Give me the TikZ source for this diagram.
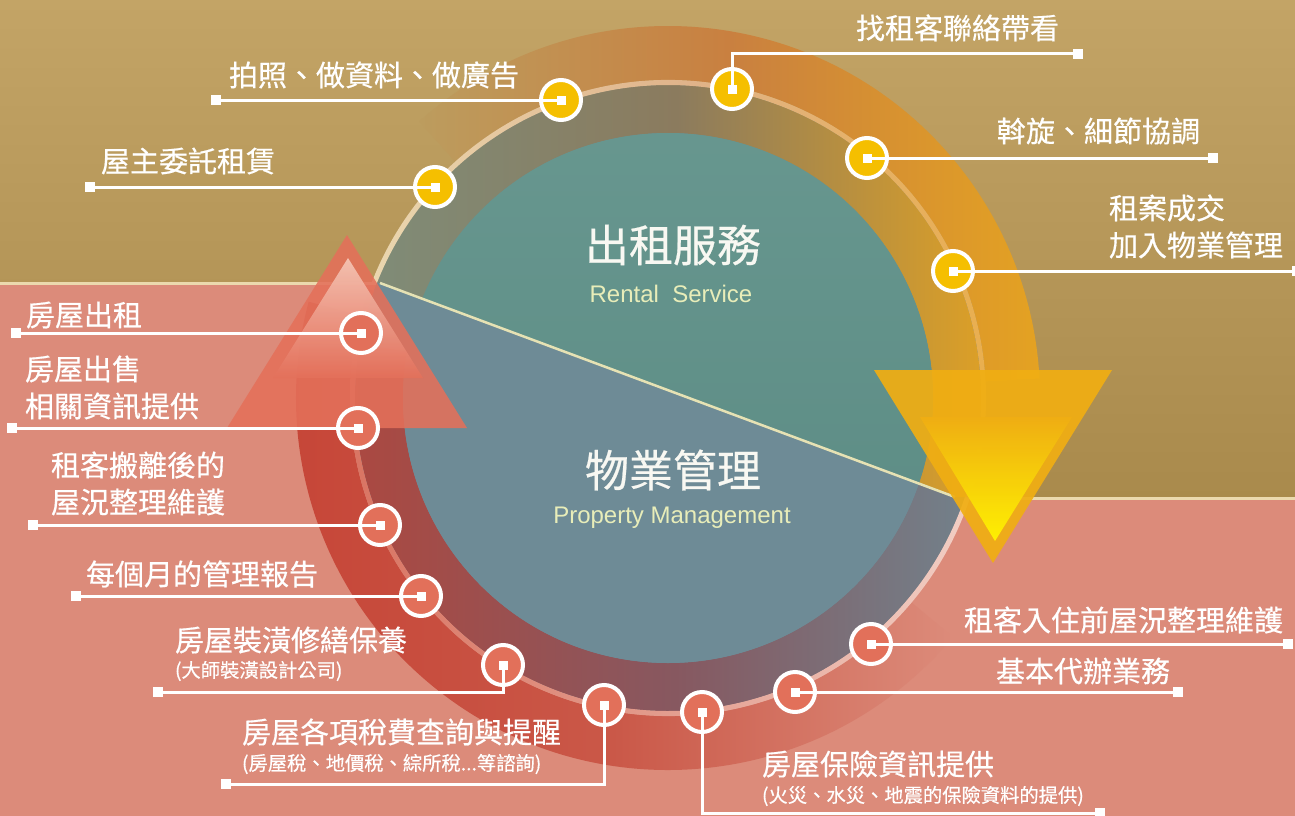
\documentclass[tikz,border=0pt]{standalone}
\usepackage{fontspec}
\setmainfont{Liberation Sans}
\newfontfamily\cjk[FakeBold=0.5]{Noto Sans CJK TC}
\definecolor{tanT}{HTML}{C3A466}
\definecolor{tanB}{HTML}{A98A4C}
\definecolor{pinkbg}{HTML}{DC8B7A}
\definecolor{cream}{HTML}{EBD9AE}
\definecolor{tealc}{HTML}{5F9189}
\definecolor{slatec}{HTML}{6E8B96}
\definecolor{doty}{HTML}{F5BF00}
\definecolor{dotc}{HTML}{E2705A}
\definecolor{titlec}{HTML}{F8F8F2}
\definecolor{engc}{HTML}{E8EDB9}
\definecolor{diagc}{HTML}{E6E2B4}
% band colours
\definecolor{orL}{HTML}{BC9C5E}
\definecolor{orM}{HTML}{C98040}
\definecolor{orR}{HTML}{E4A222}
\definecolor{tiL}{HTML}{7F8C78}
\definecolor{tiM}{HTML}{8B7B5E}
\definecolor{tiR}{HTML}{DDA026}
\definecolor{tlL}{HTML}{EAD7B0}
\definecolor{tlM}{HTML}{E0B38A}
\definecolor{tlR}{HTML}{EAAE48}
\definecolor{rdL}{HTML}{C64537}
\definecolor{rdM}{HTML}{CA5848}
\definecolor{biL}{HTML}{AC4840}
\definecolor{biM}{HTML}{875860}
\definecolor{biR}{HTML}{6F8690}
\definecolor{blL}{HTML}{D8705E}
\definecolor{blM}{HTML}{E29A8B}
\definecolor{blR}{HTML}{F2D0C6}
\definecolor{upO}{HTML}{E4705A}
\definecolor{upT}{HTML}{F7CDBE}
\definecolor{dnO}{HTML}{F0AE13}
\definecolor{dnT}{HTML}{FFF400}
\newcommand{\ringshade}[5]{\shade[#5] ([shift={(668,-398)}]#3:#2) arc[start angle=#3,end angle=#4,radius=#2] -- ([shift={(668,-398)}]#4:#1) arc[start angle=#4,end angle=#3,radius=#1] -- cycle;}
\begin{document}
\begin{tikzpicture}[x=1pt,y=1pt,
  conn/.style={draw=white,line width=3pt},
  endsq/.style={rectangle,fill=white,minimum size=10pt,inner sep=0pt},
  censq/.style={rectangle,fill=white,minimum size=9pt,inner sep=0pt},
  dotyel/.style={circle,draw=white,line width=4pt,fill=doty,minimum size=40pt,inner sep=0pt},
  dotcor/.style={circle,draw=white,line width=4pt,fill=dotc,minimum size=40pt,inner sep=0pt},
  lbl/.style={anchor=west,inner sep=0pt,outer sep=0pt,text=white,font=\cjk\fontsize{29}{35}\selectfont},
  sublbl/.style={anchor=west,inner sep=0pt,outer sep=0pt,text=white,font=\cjk\fontsize{19.3}{23}\selectfont},
  ttl/.style={inner sep=0pt,text=titlec,font=\cjk\fontsize{44}{50}\selectfont},
  engl/.style={inner sep=0pt,text=engc,font=\fontsize{24}{28}\selectfont},
  creamline/.style={draw=cream,line width=3pt},
]
\useasboundingbox (0,0) rectangle (1295,-816);
\clip (0,0) rectangle (1295,-816);
% backgrounds
\fill[tanB] (0,0) rectangle (1295,-816);
\shade[top color=tanT, bottom color=tanB] (0,0) rectangle (1295,-500);
\fill[pinkbg] (0,-283) -- (380,-283) -- (955,-497) -- (1295,-499) -- (1295,-816) -- (0,-816) -- cycle;
\draw[creamline] (0,-283) -- (380,-283);
\draw[creamline] (955,-498) -- (1295,-498);
% disc base (lower half colour)
\fill[slatec] (668,-398) circle[radius=313];
% lower bands
\ringshade{318}{372}{-40}{-195}{left color=rdL, right color=pinkbg, middle color=rdM}
\begin{scope}
  \clip (0,-283) -- (380,-283) -- (955,-497) -- (1295,-499) -- (1295,-816) -- (0,-816) -- cycle;
  \ringshade{265}{313}{10}{-190}{left color=biL, right color=biR, middle color=biM}
  \fill[slatec] (668,-398) circle[radius=265];
  \ringshade{313}{318}{-12}{-200}{left color=blL, right color=blR, middle color=blM}
\end{scope}
% upper bands
\ringshade{318}{372}{132}{3}{left color=orL, right color=orR, middle color=orM}
\begin{scope}
  \clip (0,0) -- (1295,0) -- (1295,-499) -- (955,-497) -- (380,-283) -- (0,-283) -- cycle;
  \ringshade{265}{313}{165}{-20}{left color=tiL, right color=tiR, middle color=tiM}
  \shade[top color=tealc!95!white, bottom color=tealc!95!black] (668,-398) circle[radius=265];
  \ringshade{313}{318}{165}{-20}{left color=tlL, right color=tlR, middle color=tlM}
\end{scope}
% dividing line
\draw[draw=diagc,line width=2.5pt] (380,-283) -- (955,-497);
% arrow heads
\fill[upO,opacity=0.88] (227,-428) -- (467,-428) -- (347,-235) -- cycle;
\shade[top color=upT, bottom color=upO, opacity=0.85] (273,-378) -- (423,-378) -- (348,-258) -- cycle;
\fill[dnO,opacity=0.93] (874,-370) -- (1112,-370) -- (993,-563) -- cycle;
\shade[top color=dnO, bottom color=dnT, opacity=0.95] (920,-417) -- (1072,-417) -- (995,-541) -- cycle;
% titles
\node[ttl] (t1) at (673,-245) {出租服務};
\node[engl] (t1e) at (671,-294) {Rental\ \ Service};
\node[ttl] (t2) at (673,-470) {物業管理};
\node[engl] (t2e) at (672,-518) {Property Management};
% dots
\node[dotyel] (y1) at (435,-187) {};
\node[dotyel] (y2) at (561,-100) {};
\node[dotyel] (y3) at (732,-89) {};
\node[dotyel] (y4) at (867,-158) {};
\node[dotyel] (y5) at (953,-271) {};
\node[dotcor] (c1) at (361,-333) {};
\node[dotcor] (c2) at (358,-428) {};
\node[dotcor] (c3) at (380,-525) {};
\node[dotcor] (c4) at (421,-596) {};
\node[dotcor] (c5) at (503,-665) {};
\node[dotcor] (c6) at (604,-705) {};
\node[dotcor] (c7) at (702,-712) {};
\node[dotcor] (c8) at (795,-692) {};
\node[dotcor] (c9) at (871,-644) {};
% end squares
\node[endsq] (ey1) at (90,-187) {};
\node[endsq] (ey2) at (216,-100) {};
\node[endsq] (ey3) at (1078,-54) {};
\node[endsq] (ey4) at (1213,-158) {};
\node[endsq] (ey5) at (1297,-271) {};
\node[endsq] (ec1) at (16,-333) {};
\node[endsq] (ec2) at (12,-428) {};
\node[endsq] (ec3) at (33,-525) {};
\node[endsq] (ec4) at (76,-596) {};
\node[endsq] (ec5) at (158,-692) {};
\node[endsq] (ec6) at (226,-784) {};
\node[endsq] (ec7) at (1100,-813) {};
\node[endsq] (ec8) at (1178,-692) {};
\node[endsq] (ec9) at (1288,-644) {};
% connectors
\draw[conn] (y1.center) -- (ey1.center);
\draw[conn] (y2.center) -- (ey2.center);
\draw[conn] (y3.center) |- (ey3.center);
\draw[conn] (y4.center) -- (ey4.center);
\draw[conn] (y5.center) -- (ey5.center);
\draw[conn] (c1.center) -- (ec1.center);
\draw[conn] (c2.center) -- (ec2.center);
\draw[conn] (c3.center) -- (ec3.center);
\draw[conn] (c4.center) -- (ec4.center);
\draw[conn] (c5.center) |- (ec5.center);
\draw[conn] (c6.center) |- (ec6.center);
\draw[conn] (c7.center) |- (ec7.center);
\draw[conn] (c8.center) -- (ec8.center);
\draw[conn] (c9.center) -- (ec9.center);
% centre squares
\foreach \d in {y1,y2,y3,y4,y5,c1,c2,c3,c4,c5,c6,c7,c8,c9}{\node[censq] (\d s) at (\d) {};}
% labels
\node[lbl] (l1) at (101,-161) {屋主委託租賃};
\node[lbl] (l2) at (229,-75) {拍照、做資料、做廣告};
\node[lbl] (l3) at (856,-28) {找租客聯絡帶看};
\node[lbl] (l4) at (997,-131) {斡旋、細節協調};
\node[lbl] (l5a) at (1109,-208) {租案成交};
\node[lbl] (l5b) at (1109,-245) {加入物業管理};
\node[lbl] (m1) at (26,-315) {房屋出租};
\node[lbl] (m2a) at (25,-369) {房屋出售};
\node[lbl] (m2b) at (25,-406) {相關資訊提供};
\node[lbl] (m3a) at (51,-465) {租客搬離後的};
\node[lbl] (m3b) at (51,-502) {屋況整理維護};
\node[lbl] (m4) at (86,-574) {每個月的管理報告};
\node[lbl] (m5a) at (175,-640) {房屋裝潢修繕保養};
\node[sublbl] (m5b) at (175,-671) {(大師裝潢設計公司)};
\node[lbl] (m6a) at (242,-732) {房屋各項稅費查詢與提醒};
\node[sublbl] (m6b) at (242,-764) {(房屋稅、地價稅、綜所稅...等諮詢)};
\node[lbl] (m7a) at (762,-764) {房屋保險資訊提供};
\node[sublbl] (m7b) at (762,-796) {(火災、水災、地震的保險資料的提供)};
\node[lbl] (m8) at (996,-671) {基本代辦業務};
\node[lbl] (m9) at (964,-620) {租客入住前屋況整理維護};
\end{tikzpicture}
\end{document}
